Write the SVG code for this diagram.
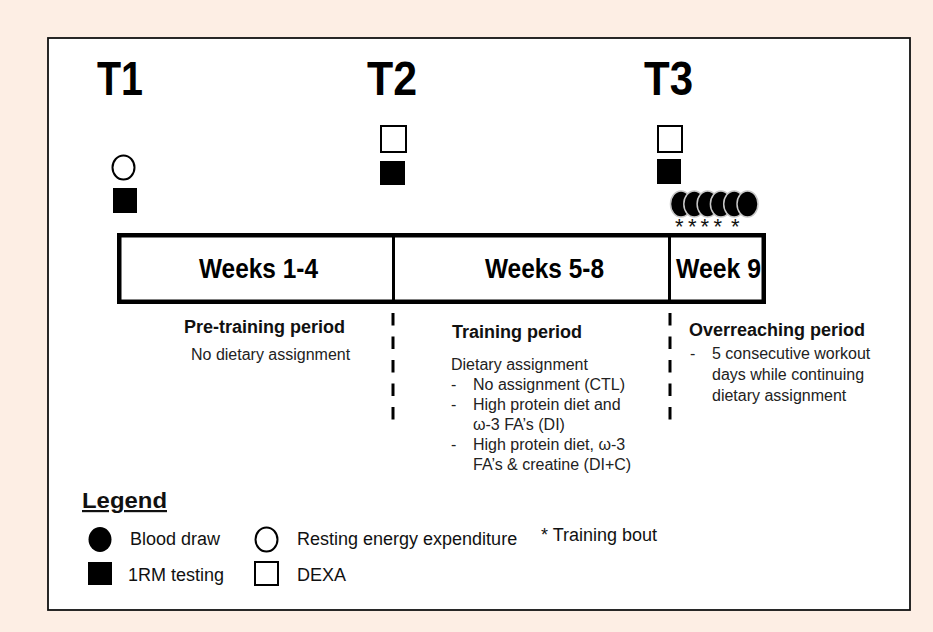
<svg xmlns="http://www.w3.org/2000/svg" width="933" height="632" viewBox="0 0 933 632">
<defs>
<style>
.bg{fill:#FDEEE4}
.panel{fill:#fff;stroke:#111;stroke-width:1.8}
.tlab{font-family:"Liberation Sans",Arial,sans-serif;font-weight:bold;font-size:49px;fill:#000}
.wk{font-family:"Liberation Sans",Arial,sans-serif;font-weight:bold;font-size:28px;fill:#000}
.hd{font-family:"Liberation Sans",Arial,sans-serif;font-weight:bold;font-size:18px;fill:#111}
.bd{font-family:"Liberation Sans",Arial,sans-serif;font-size:16px;fill:#222}
.lg{font-family:"Liberation Sans",Arial,sans-serif;font-size:18px;fill:#111}
.ast{font-family:"Liberation Sans",Arial,sans-serif;font-size:22px;fill:#111}
.fill{fill:#000}
.open{fill:#fff;stroke:#000;stroke-width:2}
.blood{fill:#000;stroke:#c8c8c8;stroke-width:1.5}
.box{fill:#fff;stroke:#000;stroke-width:4.5}
.div{stroke:#000;stroke-width:3}
.dash{stroke:#000;stroke-width:3;stroke-dasharray:12.5 11;fill:none}
</style>
</defs>
<rect class="bg" x="0" y="0" width="933" height="632"/>
<rect class="panel" x="48" y="38" width="862" height="572"/>

<g id="T1">
<text class="tlab" x="97" y="95" textLength="46" lengthAdjust="spacingAndGlyphs">T1</text>
<ellipse class="open" cx="123.5" cy="167.5" rx="11" ry="12"/>
<rect class="fill" x="113" y="188" width="24" height="25"/>
</g>
<g id="T2">
<text class="tlab" x="367" y="95" textLength="50" lengthAdjust="spacingAndGlyphs">T2</text>
<rect class="open" x="381" y="126" width="25" height="26"/>
<rect class="fill" x="380" y="161" width="25" height="24"/>
</g>
<g id="T3">
<text class="tlab" x="644" y="95" textLength="49" lengthAdjust="spacingAndGlyphs">T3</text>
<rect class="open" x="658" y="126" width="24" height="26"/>
<rect class="fill" x="657" y="159" width="24" height="25"/>
<ellipse class="blood" cx="681" cy="204" rx="10.5" ry="13"/>
<ellipse class="blood" cx="694.3" cy="204" rx="10.5" ry="13"/>
<ellipse class="blood" cx="707.6" cy="204" rx="10.5" ry="13"/>
<ellipse class="blood" cx="720.9" cy="204" rx="10.5" ry="13"/>
<ellipse class="blood" cx="734.2" cy="204" rx="10.5" ry="13"/>
<ellipse class="blood" cx="747.5" cy="204" rx="10.5" ry="13"/>
<text class="ast" x="675" y="234">*</text>
<text class="ast" x="688" y="234">*</text>
<text class="ast" x="700.5" y="234">*</text>
<text class="ast" x="713.5" y="234">*</text>
<text class="ast" x="731" y="234">*</text>
</g>

<g id="timeline">
<rect class="box" x="119.25" y="235.25" width="644.5" height="66.5"/>
<line class="div" x1="393.5" y1="235" x2="393.5" y2="302"/>
<line class="div" x1="669.5" y1="235" x2="669.5" y2="302"/>
<text class="wk" x="199" y="278" textLength="119" lengthAdjust="spacingAndGlyphs">Weeks 1-4</text>
<text class="wk" x="485" y="278" textLength="119" lengthAdjust="spacingAndGlyphs">Weeks 5-8</text>
<text class="wk" x="676" y="278" textLength="85" lengthAdjust="spacingAndGlyphs">Week 9</text>
</g>

<g id="connectors">
<line class="dash" x1="393" y1="313" x2="393" y2="422"/>
<line class="dash" x1="670" y1="313" x2="670" y2="422"/>
</g>

<g id="pretraining">
<text class="hd" x="184" y="333">Pre-training period</text>
<text class="bd" x="191" y="360">No dietary assignment</text>
</g>

<g id="training">
<text class="hd" x="452" y="338">Training period</text>
<text class="bd" x="451" y="370">Dietary assignment</text>
<text class="bd" x="451" y="390">-</text><text class="bd" x="473" y="390">No assignment (CTL)</text>
<text class="bd" x="451" y="410">-</text><text class="bd" x="473" y="410">High protein diet and</text>
<text class="bd" x="473" y="430">ω-3 FA’s (DI)</text>
<text class="bd" x="451" y="450">-</text><text class="bd" x="473" y="450">High protein diet, ω-3</text>
<text class="bd" x="473" y="470">FA’s &amp; creatine (DI+C)</text>
</g>

<g id="overreaching">
<text class="hd" x="689" y="336">Overreaching period</text>
<text class="bd" x="690" y="359">-</text><text class="bd" x="712" y="359">5 consecutive workout</text>
<text class="bd" x="712" y="380">days while continuing</text>
<text class="bd" x="712" y="401">dietary assignment</text>
</g>

<g id="legend">
<text x="82" y="508" font-family="Liberation Sans, Arial, sans-serif" font-weight="bold" font-size="22" fill="#111" text-decoration="underline" textLength="85" lengthAdjust="spacingAndGlyphs">Legend</text>
<ellipse class="fill" cx="100" cy="539.5" rx="11.5" ry="12.5"/>
<text class="lg" x="130" y="545">Blood draw</text>
<ellipse class="open" cx="266.5" cy="539.5" rx="11" ry="12"/>
<text class="lg" x="297" y="545">Resting energy expenditure</text>
<text class="lg" x="541" y="541">* Training bout</text>
<rect class="fill" x="88" y="562" width="24" height="23"/>
<text class="lg" x="128" y="581">1RM testing</text>
<rect class="open" x="255" y="562" width="23" height="23"/>
<text class="lg" x="297" y="581">DEXA</text>
</g>
</svg>
